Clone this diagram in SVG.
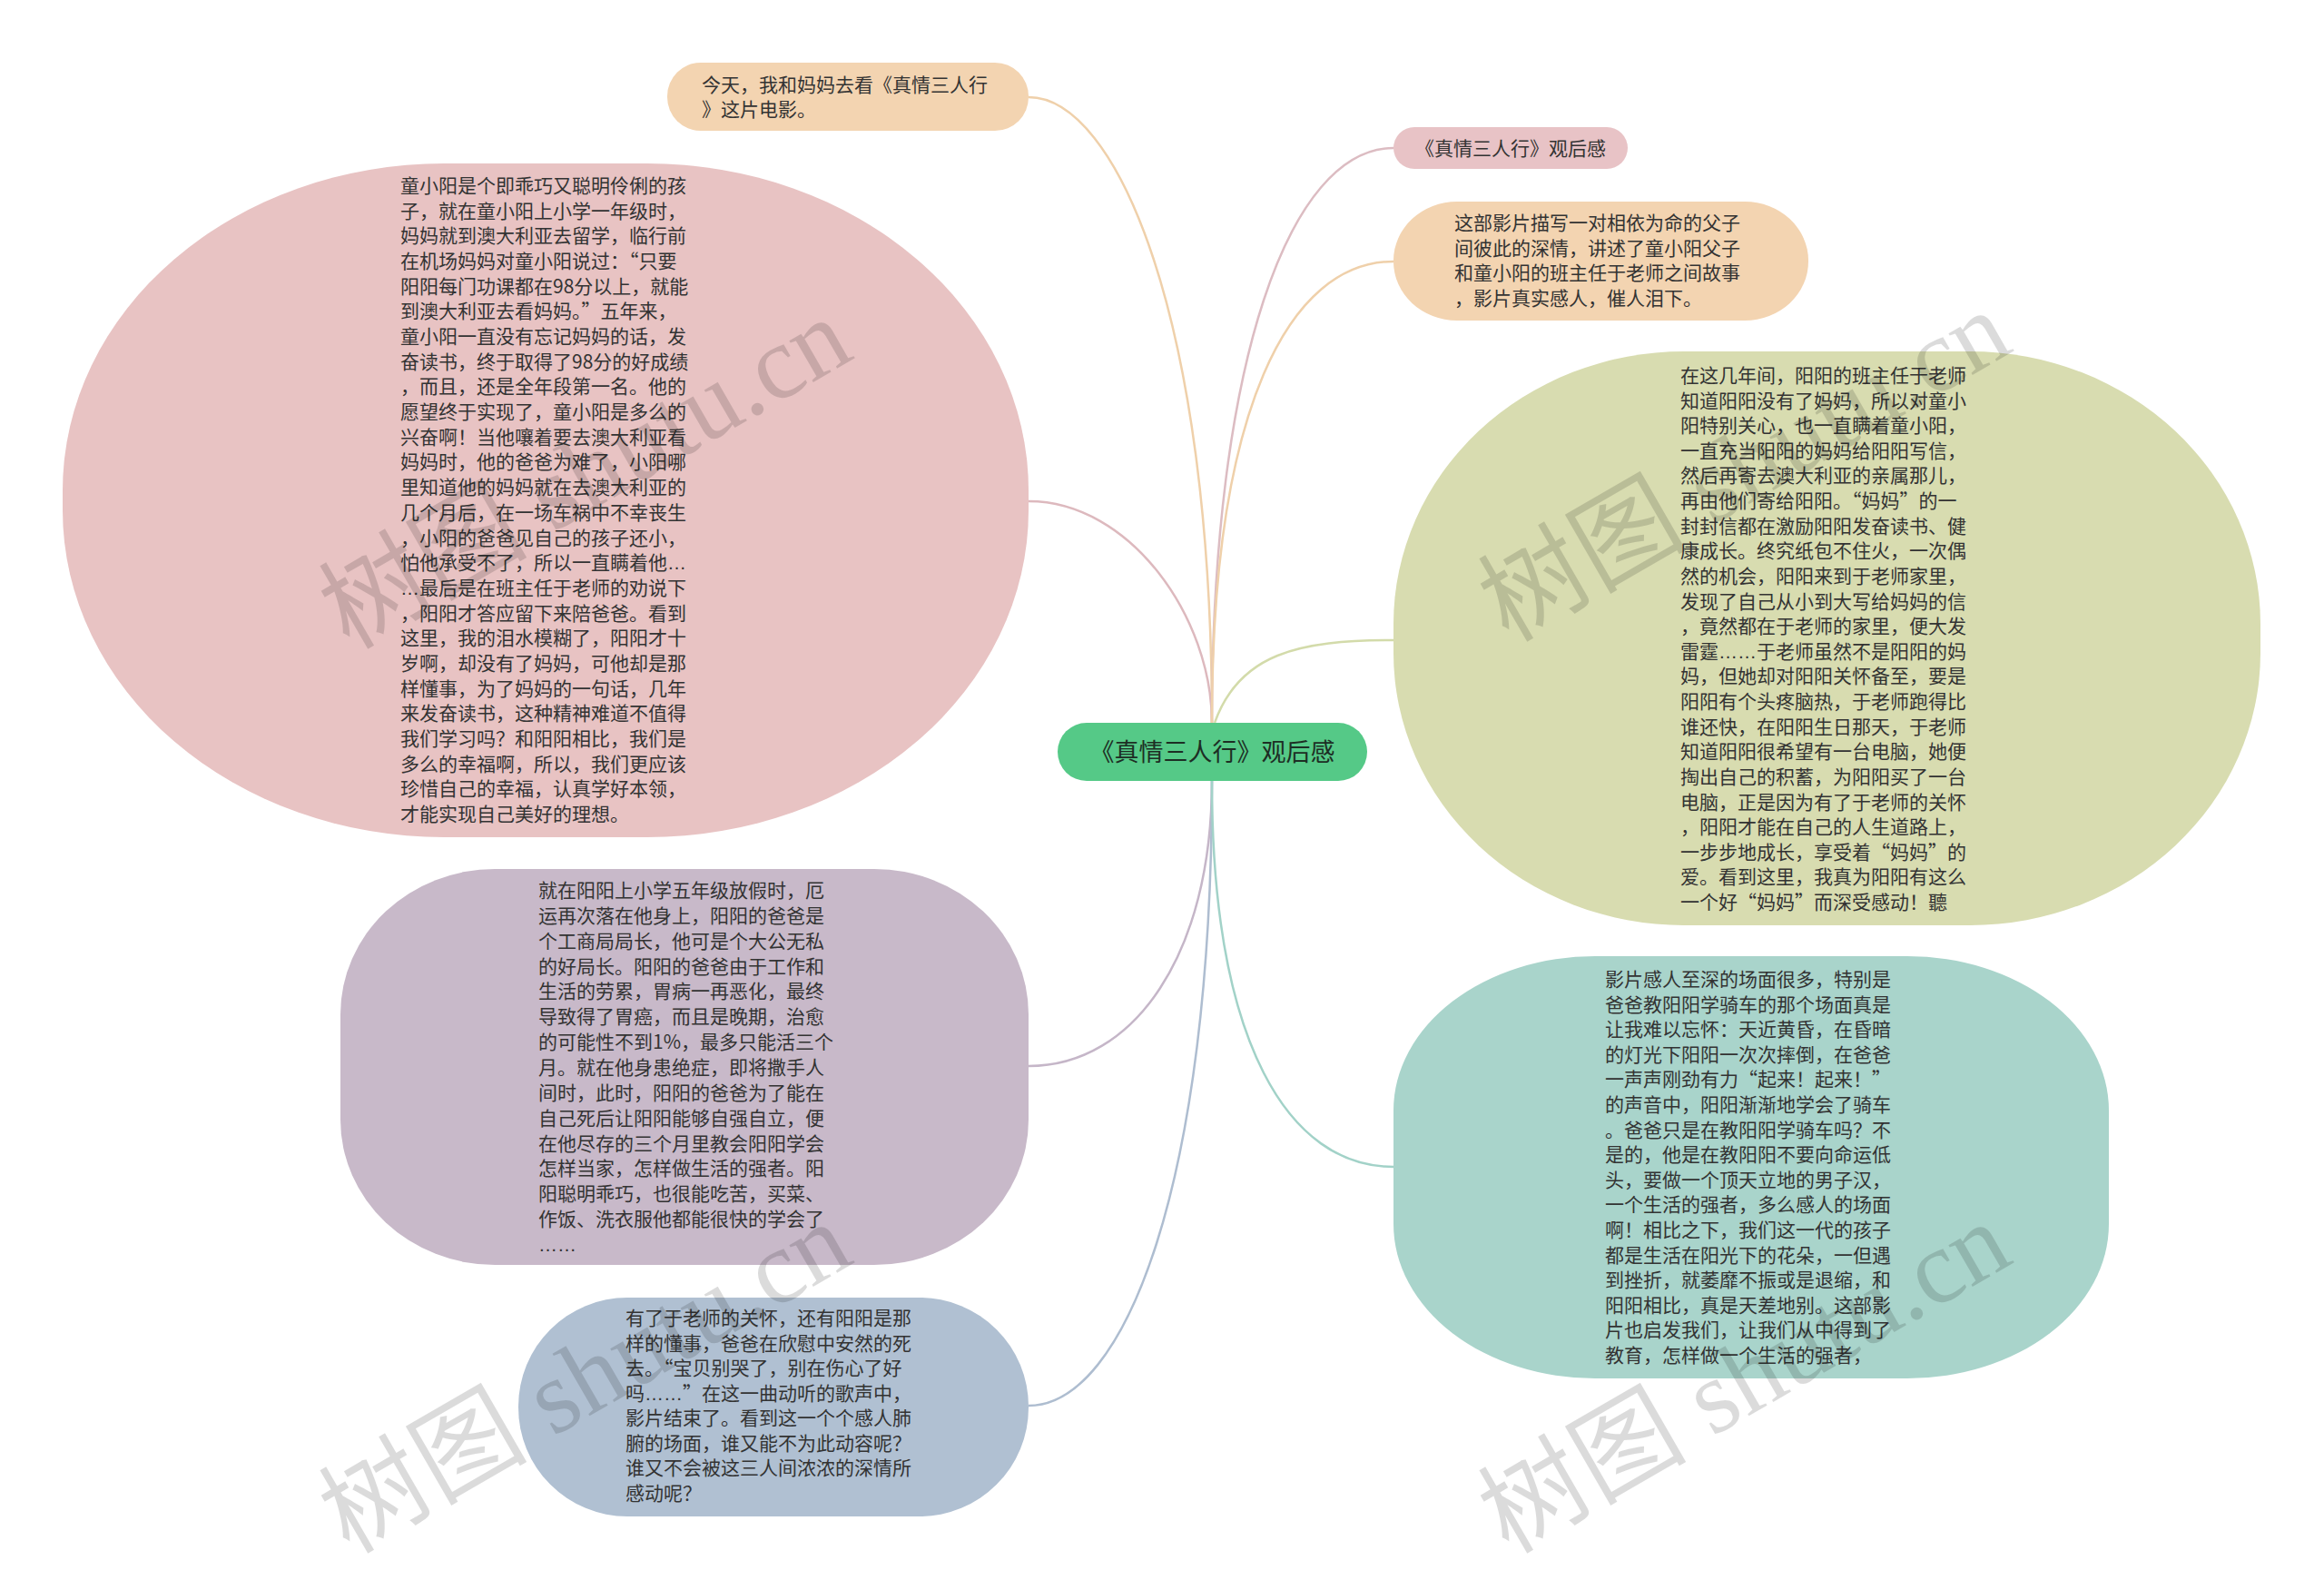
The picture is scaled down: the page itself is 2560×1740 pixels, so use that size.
<svg xmlns="http://www.w3.org/2000/svg" width="2560" height="1740" viewBox="0 0 2560 1740">
<style>
.t{font-family:"Noto Sans CJK SC","Liberation Sans",sans-serif;font-size:21px;fill:#333333;}
.el{font-family:"Liberation Sans",sans-serif;}
.c{font-family:"Noto Sans CJK SC","Liberation Sans",sans-serif;font-size:27px;fill:#1d2e24;}
.e{fill:none;stroke-width:2.5;}
.wm{font-family:"Liberation Serif","Noto Sans CJK SC",serif;font-size:115px;fill:#000000;fill-opacity:0.14;}
</style>
<rect width="2560" height="1740" fill="#ffffff"/>
<g id="connectors">
<path class="e" stroke="#efd0aa" d="M1335,796 C1335,350 1230,107 1133,107"/>
<path class="e" stroke="#ddb9be" d="M1335,796 C1335,680 1245,552 1133,552"/>
<path class="e" stroke="#c5b6c8" d="M1335,860 C1335,1050 1250,1174 1133,1174"/>
<path class="e" stroke="#aebdd0" d="M1335,860 C1335,1300 1240,1548 1133,1548"/>
<path class="e" stroke="#dcbcc2" d="M1335,796 C1335,400 1420,163 1535,163"/>
<path class="e" stroke="#efd0aa" d="M1335,796 C1335,450 1420,288 1535,288"/>
<path class="e" stroke="#d3dbaa" d="M1338,796 C1365,720 1430,705 1535,705"/>
<path class="e" stroke="#a2d2c8" d="M1335,860 C1335,1150 1420,1285 1535,1285"/>
</g>
<g id="node-center">
<rect x="1165" y="796" width="341" height="64" rx="32" fill="#55c987"/>
<text class="c" x="1335.5" y="838" text-anchor="middle">《真情三人行》观后感</text>
</g>
<g id="node-top">
<rect x="735" y="69" width="398" height="75" rx="37" fill="#f3d4b1"/>
<text class="t"><tspan x="773" y="101">今天，我和妈妈去看《真情三人行</tspan><tspan x="773" y="128">》这片电影。</tspan></text>
</g>
<g id="node-left1">
<rect x="69" y="180" width="1064" height="742" rx="420" ry="360" fill="#e8c3c3"/>
<text class="t">
<tspan x="441" y="212">童小阳是个即乖巧又聪明伶俐的孩</tspan>
<tspan x="441" dy="27.68">子，就在童小阳上小学一年级时，</tspan>
<tspan x="441" dy="27.68">妈妈就到澳大利亚去留学，临行前</tspan>
<tspan x="441" dy="27.68">在机场妈妈对童小阳说过：“只要</tspan>
<tspan x="441" dy="27.68">阳阳每门功课都在98分以上，就能</tspan>
<tspan x="441" dy="27.68">到澳大利亚去看妈妈。”五年来，</tspan>
<tspan x="441" dy="27.68">童小阳一直没有忘记妈妈的话，发</tspan>
<tspan x="441" dy="27.68">奋读书，终于取得了98分的好成绩</tspan>
<tspan x="441" dy="27.68">，而且，还是全年段第一名。他的</tspan>
<tspan x="441" dy="27.68">愿望终于实现了，童小阳是多么的</tspan>
<tspan x="441" dy="27.68">兴奋啊！当他嚷着要去澳大利亚看</tspan>
<tspan x="441" dy="27.68">妈妈时，他的爸爸为难了，小阳哪</tspan>
<tspan x="441" dy="27.68">里知道他的妈妈就在去澳大利亚的</tspan>
<tspan x="441" dy="27.68">几个月后，在一场车祸中不幸丧生</tspan>
<tspan x="441" dy="27.68">，小阳的爸爸见自己的孩子还小，</tspan>
<tspan x="441" dy="27.68">怕他承受不了，所以一直瞒着他<tspan class="el">…</tspan></tspan>
<tspan x="441" dy="27.68"><tspan class="el">…</tspan>最后是在班主任于老师的劝说下</tspan>
<tspan x="441" dy="27.68">，阳阳才答应留下来陪爸爸。看到</tspan>
<tspan x="441" dy="27.68">这里，我的泪水模糊了，阳阳才十</tspan>
<tspan x="441" dy="27.68">岁啊，却没有了妈妈，可他却是那</tspan>
<tspan x="441" dy="27.68">样懂事，为了妈妈的一句话，几年</tspan>
<tspan x="441" dy="27.68">来发奋读书，这种精神难道不值得</tspan>
<tspan x="441" dy="27.68">我们学习吗？和阳阳相比，我们是</tspan>
<tspan x="441" dy="27.68">多么的幸福啊，所以，我们更应该</tspan>
<tspan x="441" dy="27.68">珍惜自己的幸福，认真学好本领，</tspan>
<tspan x="441" dy="27.68">才能实现自己美好的理想。</tspan>
</text>
</g>
<g id="node-left2">
<rect x="375" y="957" width="758" height="436" rx="170" ry="160" fill="#c8b9c9"/>
<text class="t">
<tspan x="593" y="988">就在阳阳上小学五年级放假时，厄</tspan>
<tspan x="593" dy="27.86">运再次落在他身上，阳阳的爸爸是</tspan>
<tspan x="593" dy="27.86">个工商局局长，他可是个大公无私</tspan>
<tspan x="593" dy="27.86">的好局长。阳阳的爸爸由于工作和</tspan>
<tspan x="593" dy="27.86">生活的劳累，胃病一再恶化，最终</tspan>
<tspan x="593" dy="27.86">导致得了胃癌，而且是晚期，治愈</tspan>
<tspan x="593" dy="27.86">的可能性不到1%，最多只能活三个</tspan>
<tspan x="593" dy="27.86">月。就在他身患绝症，即将撒手人</tspan>
<tspan x="593" dy="27.86">间时，此时，阳阳的爸爸为了能在</tspan>
<tspan x="593" dy="27.86">自己死后让阳阳能够自强自立，便</tspan>
<tspan x="593" dy="27.86">在他尽存的三个月里教会阳阳学会</tspan>
<tspan x="593" dy="27.86">怎样当家，怎样做生活的强者。阳</tspan>
<tspan x="593" dy="27.86">阳聪明乖巧，也很能吃苦，买菜、</tspan>
<tspan x="593" dy="27.86">作饭、洗衣服他都能很快的学会了</tspan>
<tspan x="593" dy="27.86" class="el">……</tspan>
</text>
</g>
<g id="node-left3">
<rect x="571" y="1429" width="562" height="241" rx="120" ry="120" fill="#b0c0d2"/>
<text class="t">
<tspan x="689" y="1459">有了于老师的关怀，还有阳阳是那</tspan>
<tspan x="689" dy="27.57">样的懂事，爸爸在欣慰中安然的死</tspan>
<tspan x="689" dy="27.57">去。“宝贝别哭了，别在伤心了好</tspan>
<tspan x="689" dy="27.57">吗<tspan class="el">……</tspan>”在这一曲动听的歌声中，</tspan>
<tspan x="689" dy="27.57">影片结束了。看到这一个个感人肺</tspan>
<tspan x="689" dy="27.57">腑的场面，谁又能不为此动容呢？</tspan>
<tspan x="689" dy="27.57">谁又不会被这三人间浓浓的深情所</tspan>
<tspan x="689" dy="27.57">感动呢？</tspan>
</text>
</g>
<g id="node-right1">
<rect x="1535" y="140" width="258" height="46" rx="23" fill="#e8c3c6"/>
<text class="t" x="1559" y="171">《真情三人行》观后感</text>
</g>
<g id="node-right2">
<rect x="1535" y="222" width="457" height="131" rx="70" ry="65" fill="#f3d4b1"/>
<text class="t">
<tspan x="1602" y="253">这部影片描写一对相依为命的父子</tspan>
<tspan x="1602" dy="27.7">间彼此的深情，讲述了童小阳父子</tspan>
<tspan x="1602" dy="27.7">和童小阳的班主任于老师之间故事</tspan>
<tspan x="1602" dy="27.7">，影片真实感人，催人泪下。</tspan>
</text>
</g>
<g id="node-right3">
<rect x="1535" y="387" width="955" height="632" rx="320" ry="300" fill="#d8dcb0"/>
<text class="t">
<tspan x="1851" y="421">在这几年间，阳阳的班主任于老师</tspan>
<tspan x="1851" dy="27.62">知道阳阳没有了妈妈，所以对童小</tspan>
<tspan x="1851" dy="27.62">阳特别关心，也一直瞒着童小阳，</tspan>
<tspan x="1851" dy="27.62">一直充当阳阳的妈妈给阳阳写信，</tspan>
<tspan x="1851" dy="27.62">然后再寄去澳大利亚的亲属那儿，</tspan>
<tspan x="1851" dy="27.62">再由他们寄给阳阳。“妈妈”的一</tspan>
<tspan x="1851" dy="27.62">封封信都在激励阳阳发奋读书、健</tspan>
<tspan x="1851" dy="27.62">康成长。终究纸包不住火，一次偶</tspan>
<tspan x="1851" dy="27.62">然的机会，阳阳来到于老师家里，</tspan>
<tspan x="1851" dy="27.62">发现了自己从小到大写给妈妈的信</tspan>
<tspan x="1851" dy="27.62">，竟然都在于老师的家里，便大发</tspan>
<tspan x="1851" dy="27.62">雷霆<tspan class="el">……</tspan>于老师虽然不是阳阳的妈</tspan>
<tspan x="1851" dy="27.62">妈，但她却对阳阳关怀备至，要是</tspan>
<tspan x="1851" dy="27.62">阳阳有个头疼脑热，于老师跑得比</tspan>
<tspan x="1851" dy="27.62">谁还快，在阳阳生日那天，于老师</tspan>
<tspan x="1851" dy="27.62">知道阳阳很希望有一台电脑，她便</tspan>
<tspan x="1851" dy="27.62">掏出自己的积蓄，为阳阳买了一台</tspan>
<tspan x="1851" dy="27.62">电脑，正是因为有了于老师的关怀</tspan>
<tspan x="1851" dy="27.62">，阳阳才能在自己的人生道路上，</tspan>
<tspan x="1851" dy="27.62">一步步地成长，享受着“妈妈”的</tspan>
<tspan x="1851" dy="27.62">爱。看到这里，我真为阳阳有这么</tspan>
<tspan x="1851" dy="27.62">一个好“妈妈”而深受感动！聽</tspan>
</text>
</g>
<g id="node-right4">
<rect x="1535" y="1053" width="788" height="465" rx="222" ry="170" fill="#a9d4cb"/>
<text class="t">
<tspan x="1768" y="1086">影片感人至深的场面很多，特别是</tspan>
<tspan x="1768" dy="27.6">爸爸教阳阳学骑车的那个场面真是</tspan>
<tspan x="1768" dy="27.6">让我难以忘怀：天近黄昏，在昏暗</tspan>
<tspan x="1768" dy="27.6">的灯光下阳阳一次次摔倒，在爸爸</tspan>
<tspan x="1768" dy="27.6">一声声刚劲有力“起来！起来！”</tspan>
<tspan x="1768" dy="27.6">的声音中，阳阳渐渐地学会了骑车</tspan>
<tspan x="1768" dy="27.6">。爸爸只是在教阳阳学骑车吗？不</tspan>
<tspan x="1768" dy="27.6">是的，他是在教阳阳不要向命运低</tspan>
<tspan x="1768" dy="27.6">头，要做一个顶天立地的男子汉，</tspan>
<tspan x="1768" dy="27.6">一个生活的强者，多么感人的场面</tspan>
<tspan x="1768" dy="27.6">啊！相比之下，我们这一代的孩子</tspan>
<tspan x="1768" dy="27.6">都是生活在阳光下的花朵，一但遇</tspan>
<tspan x="1768" dy="27.6">到挫折，就萎靡不振或是退缩，和</tspan>
<tspan x="1768" dy="27.6">阳阳相比，真是天差地别。这部影</tspan>
<tspan x="1768" dy="27.6">片也启发我们，让我们从中得到了</tspan>
<tspan x="1768" dy="27.6">教育，怎样做一个生活的强者，</tspan>
</text>
</g>
<g id="watermarks">
<text class="wm" x="645" y="560" text-anchor="middle" transform="rotate(-30 645 522)">树图 shutu.cn</text>
<text class="wm" x="1922" y="552" text-anchor="middle" transform="rotate(-30 1922 514)">树图 shutu.cn</text>
<text class="wm" x="645" y="1556" text-anchor="middle" transform="rotate(-30 645 1518)">树图 shutu.cn</text>
<text class="wm" x="1922" y="1556" text-anchor="middle" transform="rotate(-30 1922 1518)">树图 shutu.cn</text>
</g>
</svg>
